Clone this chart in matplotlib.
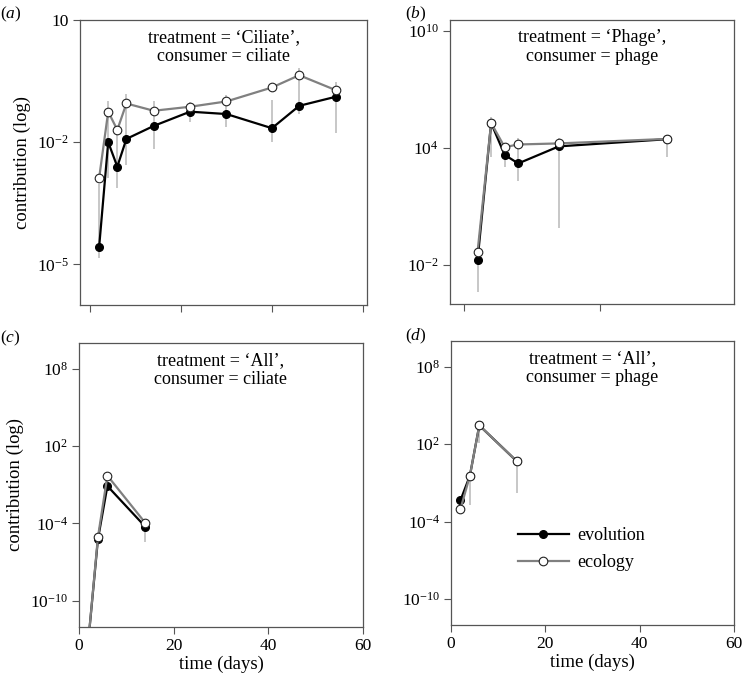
import numpy as np
import matplotlib
matplotlib.use("Agg")
import matplotlib.pyplot as plt
from matplotlib.ticker import FixedLocator, NullLocator

plt.rcParams['font.family'] = ['Liberation Serif', 'DejaVu Serif']
plt.rcParams['mathtext.fontset'] = 'custom'
plt.rcParams['mathtext.rm'] = 'Liberation Serif'
plt.rcParams['mathtext.it'] = 'Liberation Serif:italic'

# panel a: treatment 'Ciliate', consumer ciliate
days_a = [2, 4, 6, 8, 14, 22, 30, 40, 46, 54]
evo_a = [2.6e-5, 1.0e-2, 2.5e-3, 1.2e-2, 2.5e-2, 5.6e-2, 4.9e-2, 2.2e-2, 7.8e-2, 1.3e-1]
eco_a = [1.3e-3, 5.6e-2, 2.0e-2, 8.9e-2, 5.9e-2, 7.4e-2, 1.0e-1, 2.2e-1, 4.4e-1, 1.9e-1]
lo_a = [1.4e-5, 1.3e-3, 7.4e-4, 2.8e-3, 6.8e-3, 3.1e-2, 2.3e-2, 1.0e-2, 4.9e-2, 1.7e-2]
hi_a = [9.3e-4, 1.0e-1, 1.6e-2, 1.5e-1, 1.0e-1, 9.5e-2, 1.4e-1, 1.1e-1, 6.8e-1, 3.0e-1]

# panel b: treatment 'Phage', consumer phage
days_b = [2, 4, 6, 8, 14, 30]
evo_b = [1.8e-2, 1.9e5, 4.4e3, 1.6e3, 1.2e4, 2.8e4]
eco_b = [4.8e-2, 1.9e5, 1.1e4, 1.5e4, 1.7e4, 2.9e4]
lo_b = [4.3e-4, 3.5e3, 1.1e3, 1.9e2, 7.6e-1, 3.6e3]
hi_b = [4.2e-2, 4.0e5, 1.2e4, 3.2e4, 3.2e4, 3.8e4]

# panel c: treatment 'All', consumer ciliate
days_c = [2, 4, 6, 14]
evo_c = [1e-13, 6.0e-6, 7.9e-2, 5.6e-5]
eco_c = [1e-13, 8.5e-6, 5.0e-1, 1.1e-4]
lo_c = [1e-13, 3.0e-6, 5.0e-2, 3.9e-6]
hi_c = [1e-13, 1.0e-5, 6.3e-1, 1.9e-4]

# panel d: treatment 'All', consumer phage
days_d = [2, 4, 6, 14]
evo_d = [4.4e-3, 3.5e-1, 2.8e3, 4.5]
eco_d = [9.3e-4, 3.5e-1, 2.8e3, 4.5]
lo_d = [6.3e-4, 2.0e-3, 1.2e2, 1.6e-2]
hi_d = [5.0e-3, 3.1e-1, 2.3e3, 4.5]

titles = ["treatment = \u2018Ciliate\u2019,\nconsumer = ciliate",
          "treatment = \u2018Phage\u2019,\nconsumer = phage",
          "treatment = \u2018All\u2019,\nconsumer = ciliate",
          "treatment = \u2018All\u2019,\nconsumer = phage"]

W, H = 744, 677
fig = plt.figure(figsize=(W / 100, H / 100), dpi=100)

def box(l, r, t, b):
    return [l / W, 1 - b / H, (r - l) / W, (b - t) / H]

rects = [box(80, 367, 20, 305), box(450, 734, 20, 304),
         box(79, 363, 342.7, 626.7), box(451, 734, 340.7, 625)]
data = [(days_a, evo_a, eco_a, lo_a, hi_a),
        (days_b, evo_b, eco_b, lo_b, hi_b),
        (days_c, evo_c, eco_c, lo_c, hi_c),
        (days_d, evo_d, eco_d, lo_d, hi_d)]
xlims = [(-2.2, 60.9), (-2.07, 39.85), (0, 60), (0, 60)]
ylims = [(1e-6, 10), (1e-4, 3.6e10), (1e-12, 1e10), (1e-12, 1e10)]
xticks = [[0, 20, 40, 60], [0, 20, 40], [0, 20, 40, 60], [0, 20, 40, 60]]
yticks = [([1e-5, 1e-2, 10], ["$10^{-5}$", "$10^{-2}$", "10"]),
          ([1e-2, 1e4, 1e10], ["$10^{-2}$", "$10^{4}$", "$10^{10}$"]),
          ([1e-10, 1e-4, 1e2, 1e8], ["$10^{-10}$", "$10^{-4}$", "$10^{2}$", "$10^{8}$"]),
          ([1e-10, 1e-4, 1e2, 1e8], ["$10^{-10}$", "$10^{-4}$", "$10^{2}$", "$10^{8}$"])]
spine_col = "#555555"

for i in range(4):
    ax = fig.add_axes(rects[i])
    days, evo, eco, lo, hi = data[i]
    ax.vlines(days, lo, hi, color="#bdbdbd", lw=1.2, zorder=1)
    ax.plot(days, evo, "-o", color="black", lw=1.6, ms=5.5, mfc="black",
            mec="black", label="evolution", zorder=2)
    ax.plot(days, eco, "-o", color="#808080", lw=1.6, ms=6.2, mfc="white",
            mec="#222222", mew=0.8, label="ecology", zorder=3)
    ax.set_yscale("log")
    ax.set_xlim(xlims[i])
    ax.set_ylim(ylims[i])
    ax.xaxis.set_major_locator(FixedLocator(xticks[i]))
    ax.yaxis.set_major_locator(FixedLocator(yticks[i][0]))
    ax.set_yticklabels(yticks[i][1])
    ax.yaxis.set_minor_locator(NullLocator())
    ax.xaxis.set_minor_locator(NullLocator())
    ax.tick_params(direction="out", length=5, width=0.8, color=spine_col,
                   labelsize=12.5, pad=3)
    for s in ax.spines.values():
        s.set_color(spine_col)
        s.set_linewidth(0.9)
    if i < 2:
        ax.set_xticklabels([])
    else:
        ax.set_xlabel("time (days)", fontsize=13.5, labelpad=1)
    if i % 2 == 0:
        ax.set_ylabel("contribution (log)", fontsize=13.5, labelpad=4)
    ax.text(0.5, 0.968, titles[i], transform=ax.transAxes, ha="center",
            va="top", fontsize=13, linespacing=1.15)
    if i == 3:
        ax.legend(loc="upper left", bbox_to_anchor=(0.235, 0.345), frameon=False,
                  fontsize=13, handlelength=2.85, handletextpad=0.45,
                  labelspacing=0.58, borderpad=0, borderaxespad=0)

fig.text(0.0, 1 - 14 / H, "($a$)", fontsize=12.5, va="center")
fig.text(405 / W, 1 - 14 / H, "($b$)", fontsize=12.5, va="center")
fig.text(0.0, 1 - 338 / H, "($c$)", fontsize=12.5, va="center")
fig.text(405 / W, 1 - 336 / H, "($d$)", fontsize=12.5, va="center")

fig.savefig("out.png", dpi=100)
